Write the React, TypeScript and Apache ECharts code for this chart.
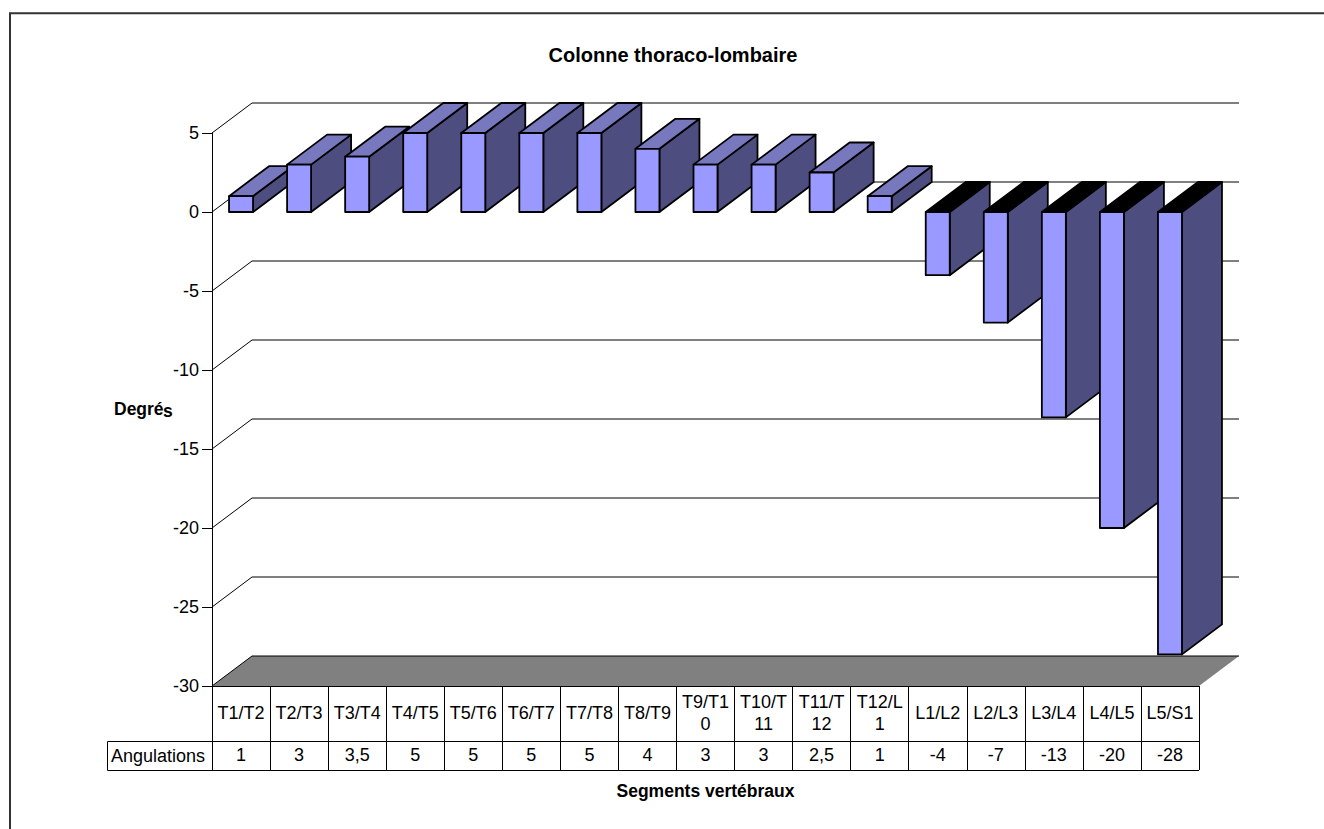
import React, { useEffect, useRef } from "react";
import * as echarts from "echarts";

const categories = ["T1/T2", "T2/T3", "T3/T4", "T4/T5", "T5/T6", "T6/T7", "T7/T8", "T8/T9", "T9/T1\n0", "T10/T\n11", "T11/T\n12", "T12/L\n1", "L1/L2", "L2/L3", "L3/L4", "L4/L5", "L5/S1"];
const angulations = [1, 3, 3.5, 5, 5, 5, 5, 4, 3, 3, 2.5, 1, -4, -7, -13, -20, -28];
const tableLabels = ["1", "3", "3,5", "5", "5", "5", "5", "4", "3", "3", "2,5", "1", "-4", "-7", "-13", "-20", "-28"];
const wallTicks = [5, 0, -5, -10, -15, -20, -25];

const TITLE = "Colonne thoraco-lombaire";
const X_NAME = "Segments vertébraux";
const ROW_NAME = "Angulations";

const FONT = "'Liberation Sans', Arial, sans-serif";
const DX = 40;
const DY = -30;
const FRONT = "#9999FF";
const SIDE = "#4D4D80";
const TOP = "#7878BE";
const LW = 1.8;

const poly = (points: number[][], fill: string) => ({
  type: "polygon",
  shape: { points },
  style: { fill, stroke: "#000", lineWidth: LW, lineJoin: "round" },
});

const renderBar = (_: any, api: any) => {
  const idx = api.value(0);
  const val = api.value(1);
  const band = api.size([1, 0])[0];
  const cx = api.coord([idx, 0])[0];
  const y0 = api.coord([idx, 0])[1];
  const yv = api.coord([idx, val])[1];
  const w = band * 24 / 58.06;
  const l = cx - w / 2;
  const r = cx + w / 2;
  const top = Math.min(y0, yv);
  const bot = Math.max(y0, yv);
  return {
    type: "group",
    children: [
      poly([[r, top], [r + DX, top + DY], [r + DX, bot + DY], [r, bot]], SIDE),
      poly([[l, top], [l + DX, top + DY], [r + DX, top + DY], [r, top]], val < 0 ? "#000" : TOP),
      poly([[l, top], [r, top], [r, bot], [l, bot]], FRONT),
    ],
  };
};

const edges = (api: any, v: number) => {
  const band = api.size([1, 0])[0];
  const y = api.coord([0, v])[1];
  const x0 = api.coord([0, v])[0] - band / 2;
  const x1 = x0 + band * categories.length;
  return { x0, x1, y };
};

const renderWall = (_: any, api: any) => {
  const { x0, x1, y } = edges(api, api.value(1));
  return {
    type: "polyline",
    shape: { points: [[x0, y], [x0 + DX, y + DY], [x1 + DX, y + DY]] },
    style: { fill: "none", stroke: "#000", lineWidth: 1 },
  };
};

const renderFloor = (_: any, api: any) => {
  const { x0, x1, y } = edges(api, api.value(1));
  return {
    type: "group",
    children: [
      {
        type: "polygon",
        shape: { points: [[x0, y], [x0 + DX, y + DY], [x1 + DX, y + DY], [x1, y]] },
        style: { fill: "#808080", stroke: "none" },
      },
      {
        type: "polyline",
        shape: { points: [[x0, y], [x0 + DX, y + DY], [x1 + DX, y + DY]] },
        style: { fill: "none", stroke: "#000", lineWidth: 1 },
      },
    ],
  };
};

export default function App() {
  const ref = useRef<HTMLDivElement>(null);
  useEffect(() => {
    const chart = echarts.init(ref.current!, null, { renderer: "svg" });
    chart.setOption({
      animation: false,
      backgroundColor: "#fff",
      textStyle: { fontFamily: FONT, color: "#000" },
      title: {
        text: TITLE,
        left: 668,
        top: 40,
        textAlign: "center",
        textStyle: { fontFamily: FONT, fontSize: 20, fontWeight: "bold", color: "#000" },
      },
      grid: { left: 212, top: 133, width: 987, height: 553, containLabel: false },
      xAxis: [
        {
          type: "category",
          position: "bottom",
          data: categories,
          axisLine: { onZero: false, lineStyle: { color: "#000", width: 1 } },
          axisTick: { show: true, length: 55, lineStyle: { color: "#000", width: 1 } },
          axisLabel: { interval: 0, margin: 27, verticalAlign: "middle", lineHeight: 22, fontFamily: FONT, fontSize: 18, color: "#000", hideOverlap: false },
        },
        {
          type: "category",
          position: "bottom",
          offset: 55,
          data: tableLabels,
          name: X_NAME,
          nameLocation: "middle",
          nameGap: 50,
          nameTextStyle: { fontFamily: FONT, fontSize: 17.5, fontWeight: "bold", color: "#000", verticalAlign: "middle" },
          axisLine: { onZero: false, lineStyle: { color: "#000", width: 1 } },
          axisTick: { show: true, length: 29, lineStyle: { color: "#000", width: 1 } },
          axisLabel: { interval: 0, margin: 14, verticalAlign: "middle", fontFamily: FONT, fontSize: 18, color: "#000", hideOverlap: false },
        },
      ],
      yAxis: {
        type: "value",
        min: -30,
        max: 5,
        interval: 5,
        splitLine: { show: false },
        axisLine: { show: true, onZero: false, lineStyle: { color: "#000", width: 1 } },
        axisTick: { show: true, length: 10, lineStyle: { color: "#000", width: 1 } },
        axisLabel: { margin: 13, fontFamily: FONT, fontSize: 18, color: "#000" },
      },
      series: [
        { type: "custom", name: "wall", renderItem: renderWall, data: wallTicks.map((v) => [0, v]), encode: { x: 0, y: 1 }, z: 1, silent: true },
        { type: "custom", name: "floor", renderItem: renderFloor, data: [[0, -30]], encode: { x: 0, y: 1 }, z: 2, silent: true },
        { type: "custom", name: "Angulations", renderItem: renderBar, data: angulations.map((v, i) => [i, v]), encode: { x: 0, y: 1 }, z: 3, silent: true },
      ],
      graphic: [
        { type: "polyline", shape: { points: [[10, 829], [10, 13.2], [1324, 13.2]] }, style: { fill: "none", stroke: "#333", lineWidth: 2 }, silent: true },
        { type: "polyline", shape: { points: [[212, 741.5], [107.5, 741.5], [107.5, 770.5], [1199, 770.5]] }, style: { fill: "none", stroke: "#000", lineWidth: 1 }, silent: true },
        { type: "text", x: 111, y: 756, style: { text: ROW_NAME, font: `18px ${FONT}`, fill: "#000", textVerticalAlign: "middle" }, silent: true },
        { type: "text", x: 114, y: 409, style: { text: "Degré", font: `bold 17.5px ${FONT}`, fill: "#000", textVerticalAlign: "middle" }, silent: true },
        { type: "text", x: 163, y: 411, style: { text: "s", font: `bold 17.5px ${FONT}`, fill: "#000", textVerticalAlign: "middle" }, silent: true },
      ],
    });
    return () => chart.dispose();
  }, []);
  return <div ref={ref} style={{ position: "fixed", left: 0, top: 0, width: 1324, height: 829 }} />;
}
